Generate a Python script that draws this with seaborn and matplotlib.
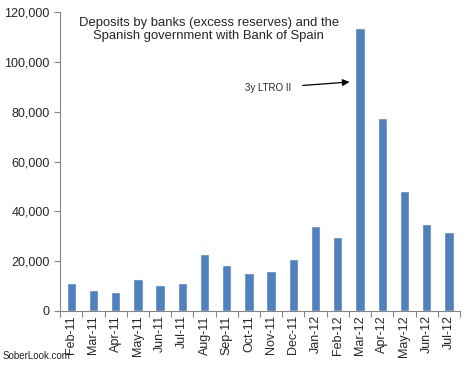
import matplotlib
matplotlib.use("Agg")
import matplotlib.pyplot as plt
import seaborn as sns
import pandas as pd
from matplotlib.ticker import FuncFormatter

# ── Data ──────────────────────────────────────────────────────────────────────
months = ["Feb-11", "Mar-11", "Apr-11", "May-11", "Jun-11", "Jul-11",
          "Aug-11", "Sep-11", "Oct-11", "Nov-11", "Dec-11", "Jan-12",
          "Feb-12", "Mar-12", "Apr-12", "May-12", "Jun-12", "Jul-12"]
deposits = [11300, 8500, 7700, 12900, 10500, 11300,
            23000, 18500, 15300, 16100, 21000, 34300,
            29800, 113600, 77500, 48200, 35000, 31700]

df = pd.DataFrame({"month": months, "deposits": deposits})

sns.set_style("white")
plt.rcParams["font.family"] = ["Liberation Sans", "DejaVu Sans"]

fig = plt.figure(figsize=(4.66, 3.65), dpi=100)
ax = fig.add_axes([0.129, 0.148, 0.858, 0.819])

sns.barplot(data=df, x="month", y="deposits", color="#4F81BD",
            width=0.42, saturation=1, ax=ax)

ax.set_ylim(0, 120000)
ax.set_yticks(range(0, 120001, 20000))
ax.yaxis.set_major_formatter(FuncFormatter(lambda v, p: f"{int(v):,}"))
ax.set_xlim(-0.5, len(months) - 0.5)

# category ticks sit between the bars, labels under the bars
ax.set_xticks([i - 0.5 for i in range(len(months) + 1)], minor=False)
ax.set_xticklabels([])
ax.set_xticks(range(len(months)), minor=True)
ax.set_xticklabels(months, minor=True, rotation=90, fontsize=9)
ax.tick_params(axis="x", which="major", direction="out", length=4,
               color="#868686", bottom=True)
ax.tick_params(axis="x", which="minor", length=0, pad=3)
ax.tick_params(axis="y", direction="out", length=4, color="#868686",
               left=True, labelsize=9)

ax.set_xlabel("")
ax.set_ylabel("")
for side in ["top", "right"]:
    ax.spines[side].set_visible(False)
for side in ["left", "bottom"]:
    ax.spines[side].set_color("#868686")
    ax.spines[side].set_linewidth(0.8)

ax.text(0.372, 0.985, "Deposits by banks (excess reserves) and the\n"
        "Spanish government with Bank of Spain",
        transform=ax.transAxes, ha="center", va="top", fontsize=9.4,
        linespacing=1.2)

ax.annotate("3y LTRO II", xy=(12.65, 92000), xytext=(9.9, 89500),
            fontsize=7, ha="right", va="center",
            arrowprops=dict(arrowstyle="-|>", color="black", lw=0.9,
                            mutation_scale=10, shrinkA=6))

fig.text(0.005, 0.012, "SoberLook.com", fontsize=7, color="#222222",
         ha="left", va="bottom")

plt.savefig("out.png", dpi=100)
plt.close()
